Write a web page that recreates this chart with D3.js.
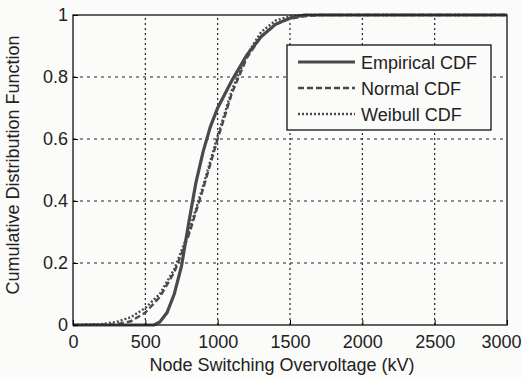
<!DOCTYPE html>
<html>
<head>
<meta charset="utf-8">
<script src="https://cdn.jsdelivr.net/npm/d3@7"></script>
<style>
  body { margin: 0; background: #fbfbfa; }
  text { font-family: Arial, "Liberation Sans", sans-serif; fill: #222; }
</style>
</head>
<body>
<div id="chart"></div>
<script>
// values (kV, cumulative probability)
const empX = [0, 560, 600, 650, 700, 750, 800, 850, 900, 950, 1000, 1100, 1200, 1300, 1400, 1500, 1600, 3000];
const empY = [0, 0, 0.01, 0.04, 0.10, 0.19, 0.33, 0.46, 0.56, 0.64, 0.70, 0.79, 0.87, 0.93, 0.97, 0.99, 1, 1];

const normX = [0, 300, 400, 500, 600, 700, 800, 900, 1000, 1100, 1200, 1300, 1400, 1500, 1600, 1700, 3000];
const normY = [0, 0.002, 0.012, 0.04, 0.09, 0.17, 0.29, 0.44, 0.60, 0.75, 0.86, 0.93, 0.97, 0.988, 0.996, 1, 1];

const weibX = [0, 200, 300, 400, 500, 600, 700, 800, 900, 1000, 1100, 1200, 1300, 1400, 1500, 1600, 3000];
const weibY = [0, 0.003, 0.01, 0.025, 0.055, 0.10, 0.18, 0.30, 0.45, 0.61, 0.76, 0.87, 0.945, 0.982, 0.996, 1, 1];

const xTicks = [0, 500, 1000, 1500, 2000, 2500, 3000];
const yTicks = [0, 0.2, 0.4, 0.6, 0.8, 1];
const legendLabels = ['Empirical CDF', 'Normal CDF', 'Weibull CDF'];

const W = 522, H = 379;
const m = { left: 73, right: 15, top: 15, bottom: 54 };

const svg = d3.select('#chart').append('svg')
  .attr('width', W).attr('height', H);

const x = d3.scaleLinear().domain([0, 3000]).range([m.left, W - m.right]);
const y = d3.scaleLinear().domain([0, 1]).range([H - m.bottom, m.top]);

// grid
svg.append('g').selectAll('line.gx')
  .data(xTicks.slice(1, -1)).enter().append('line')
  .attr('x1', d => x(d)).attr('x2', d => x(d))
  .attr('y1', y(0)).attr('y2', y(1))
  .attr('stroke', '#222').attr('stroke-width', 1.2).attr('stroke-dasharray', '2,3');
svg.append('g').selectAll('line.gy')
  .data(yTicks.slice(1, -1)).enter().append('line')
  .attr('x1', x(0)).attr('x2', x(3000))
  .attr('y1', d => y(d)).attr('y2', d => y(d))
  .attr('stroke', '#222').attr('stroke-width', 1.2).attr('stroke-dasharray', '3,4');

// curves
const line = d3.line().x(d => x(d[0])).y(d => y(d[1]));
const series = [
  { xs: empX, ys: empY, dash: null, w: 3.2 },
  { xs: normX, ys: normY, dash: '6,3', w: 2.4 },
  { xs: weibX, ys: weibY, dash: '2,2', w: 2.4 }
];
series.forEach(s => {
  svg.append('path')
    .datum(d3.zip(s.xs, s.ys))
    .attr('d', line)
    .attr('fill', 'none')
    .attr('stroke', '#4a4a4a')
    .attr('stroke-width', s.w)
    .attr('stroke-dasharray', s.dash);
});

// axes box
svg.append('rect')
  .attr('x', x(0)).attr('y', y(1))
  .attr('width', x(3000) - x(0)).attr('height', y(0) - y(1))
  .attr('fill', 'none').attr('stroke', '#222').attr('stroke-width', 1.4);

const xAxis = d3.axisBottom(x).tickValues(xTicks).tickSize(-5).tickPadding(10).tickFormat(d3.format('d'));
const gx = svg.append('g').attr('transform', `translate(0,${y(0)})`).call(xAxis);
gx.select('.domain').remove();
gx.selectAll('text').attr('font-size', 18).style('font-family', 'Arial, "Liberation Sans", sans-serif').attr('fill', '#222')
  .attr('dx', d => d === 3000 ? -6 : 0);

const yAxis = d3.axisLeft(y).tickValues(yTicks).tickSize(-5).tickPadding(5).tickFormat(d => d === 0 || d === 1 ? d3.format('d')(d) : d3.format('.1f')(d));
const gy = svg.append('g').attr('transform', `translate(${x(0)},0)`).call(yAxis);
gy.select('.domain').remove();
gy.selectAll('text').attr('font-size', 18).style('font-family', 'Arial, "Liberation Sans", sans-serif').attr('fill', '#222');

// axis labels
svg.append('text')
  .attr('x', 282).attr('y', 371)
  .attr('text-anchor', 'middle').attr('font-size', 18)
  .text('Node Switching Overvoltage (kV)');
svg.append('text')
  .attr('transform', 'translate(19,165) rotate(-90)')
  .attr('text-anchor', 'middle').attr('font-size', 18)
  .text('Cumulative Distribution Function');

// legend
const lg = svg.append('g').attr('transform', 'translate(287,45)');
lg.append('rect').attr('width', 204).attr('height', 85)
  .attr('fill', '#fbfbfa').attr('stroke', '#222').attr('stroke-width', 1.4);
legendLabels.forEach((lab, i) => {
  const yy = 17 + i * 26;
  lg.append('line').attr('x1', 11).attr('x2', 68).attr('y1', yy).attr('y2', yy)
    .attr('stroke', '#4a4a4a').attr('stroke-width', series[i].w)
    .attr('stroke-dasharray', series[i].dash);
  lg.append('text').attr('x', 74).attr('y', yy + 6.5)
    .attr('font-size', 18).text(lab);
});
</script>
</body>
</html>
